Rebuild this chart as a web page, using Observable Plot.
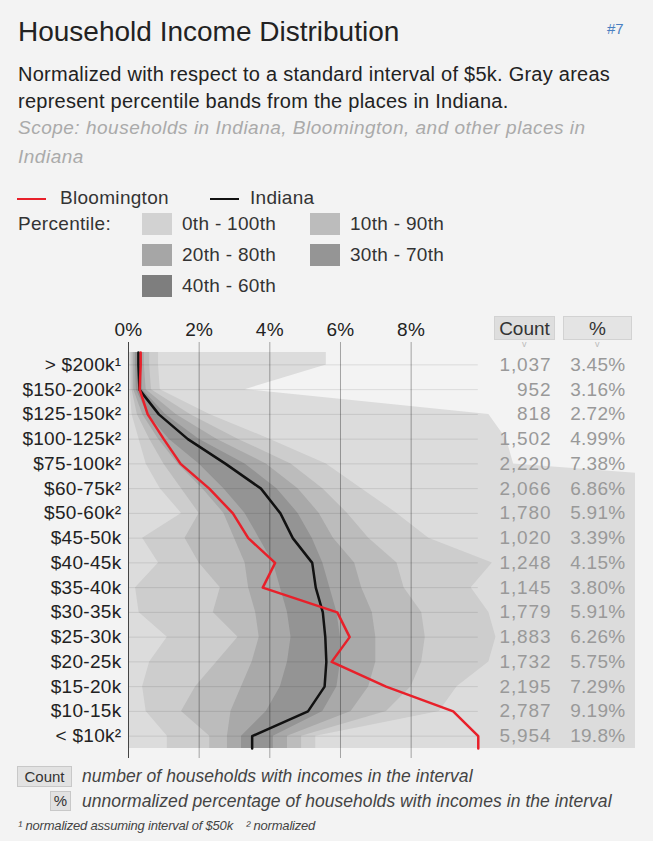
<!DOCTYPE html>
<html><head><meta charset="utf-8">
<script src="https://cdn.jsdelivr.net/npm/d3@7"></script>
<script src="https://cdn.jsdelivr.net/npm/@observablehq/plot@0.6"></script>
<style>
body{margin:0;background:#f3f3f3;font-family:"Liberation Sans",Arial,sans-serif;color:#222}
#page{position:relative;width:653px;height:841px;overflow:hidden;background:#f3f3f3}
.abs{position:absolute;white-space:nowrap}
#title{left:18px;top:16px;font-size:28px;color:#222}
#num{left:607px;top:20px;font-size:15px;color:#4a7fc1}
#sub{left:18px;top:61px;font-size:20px;line-height:27px;letter-spacing:0.25px;color:#222;white-space:normal;width:625px}
#scope{left:18px;top:113px;font-size:19px;line-height:29px;letter-spacing:0.5px;color:#aaa;font-style:italic;white-space:normal;width:600px}
.lg{font-size:19px;color:#333;letter-spacing:0.3px}
.sw{position:absolute;width:30px;height:22px}
.hdr{position:absolute;top:316px;height:24px;line-height:24px;text-align:center;font-size:19px;color:#333;background:#dedede;border:1px solid #d2d2d2;box-sizing:border-box}
.chev{position:absolute;top:339px;font-size:9px;color:#bbb}
#chart{position:absolute;left:0;top:310px}
.fbox{position:absolute;font-size:15px;color:#333;background:#e2e2e2;border:1px solid #c8c8c8;box-sizing:border-box;text-align:center}
.fn{font-size:17.5px;color:#444;font-style:italic;letter-spacing:0.05px}
.fn3{font-size:13px;color:#444;font-style:italic;letter-spacing:-0.2px}
</style></head><body><div id="page">
<div class="abs" id="title">Household Income Distribution</div>
<div class="abs" id="num">#7</div>
<div class="abs" id="sub">Normalized with respect to a standard interval of $5k. Gray areas represent percentile bands from the places in Indiana.</div>
<div class="abs" id="scope">Scope: households in Indiana, Bloomington, and other places in Indiana</div>
<div id="legend"></div>
<div id="chart"></div>
<div class="hdr" style="left:494px;width:61px">Count</div>
<div class="hdr" style="left:563px;width:69px;background:#e4e4e4">%</div>
<div class="chev" style="left:522px">v</div>
<div class="chev" style="left:595px">v</div>
<div class="fbox" style="left:17px;top:766px;width:55px;height:21px;line-height:19px">Count</div>
<div class="abs fn" style="left:82px;top:766px">number of households with incomes in the interval</div>
<div class="fbox" style="left:50px;top:791px;width:21px;height:20px;line-height:18px">%</div>
<div class="abs fn" style="left:82px;top:791px">unnormalized percentage of households with incomes in the interval</div>
<div class="abs fn3" style="left:18px;top:818px">¹ normalized assuming interval of $50k</div>
<div class="abs fn3" style="left:246px;top:818px">² normalized</div>
</div>
<script>
// ---- data ----
const incomeLabels = ["> $200k¹","$150-200k²","$125-150k²","$100-125k²","$75-100k²","$60-75k²","$50-60k²","$45-50k","$40-45k","$35-40k","$30-35k","$25-30k","$20-25k","$15-20k","$10-15k","< $10k²"];
const intervalWidthK = [50,50,25,25,25,15,10,5,5,5,5,5,5,5,5,10];
const bloomCount = [1037,952,818,1502,2220,2066,1780,1020,1248,1145,1779,1883,1732,2195,2787,5954];
const bloomPct = [3.45,3.16,2.72,4.99,7.38,6.86,5.91,3.39,4.15,3.80,5.91,6.26,5.75,7.29,9.19,19.8];
const indianaNorm = [0.28,0.31,0.86,1.68,2.75,3.75,4.3,4.65,5.2,5.3,5.5,5.57,5.6,5.55,5.08,3.5];
// percentile bands across places in Indiana (normalized %)
const p0   = [0,0,0,0,0,0,0,0,0,0,0,0,0,0,0,0];
const p10  = [0.05,0.05,0.1,0.3,0.5,0.9,1.5,0.4,0.85,0.2,0.3,1.1,0.6,0.4,0.5,1.1];
const p20  = [0.1,0.1,0.25,0.6,1.0,1.5,2.0,1.6,2.0,2.6,2.4,3.1,2.5,1.9,1.5,2.3];
const p30  = [0.15,0.15,0.4,0.85,1.4,2.1,2.7,3.0,3.3,3.4,3.6,3.7,3.5,3.2,2.9,2.8];
const p40  = [0.2,0.22,0.55,1.15,2.0,2.7,3.3,3.7,4.1,4.3,4.5,4.6,4.5,4.3,3.9,3.2];
const p60  = [0.35,0.4,1.05,2.0,3.3,4.2,4.8,5.2,5.5,5.7,5.9,6.0,6.0,5.9,5.5,4.1];
const p70  = [0.45,0.5,1.35,2.5,3.9,4.8,5.4,5.8,6.4,6.6,6.9,7.0,7.0,6.8,6.3,4.5];
const p80  = [0.6,0.65,1.75,3.1,4.6,5.5,6.2,6.8,7.6,7.8,8.3,8.4,8.3,8.0,7.3,4.9];
const p90  = [0.85,0.9,2.3,4.0,5.6,6.6,7.6,8.5,10.3,9.7,10.2,10.4,10.2,9.3,8.8,5.3];
const p100 = [5.6,3.3,10.2,10.7,10.9,20,20,20,20,20,20,20,20,20,20,20];
const xTicks = [0,2,4,6,8];
const bandDefs = [
  {name:"0th - 100th", lo:p0,  hi:p100, fill:"#dcdcdc", swatch:"#d2d2d2"},
  {name:"10th - 90th", lo:p10, hi:p90,  fill:"#cdcdcd", swatch:"#bcbcbc"},
  {name:"20th - 80th", lo:p20, hi:p80,  fill:"#bcbcbc", swatch:"#a6a6a6"},
  {name:"30th - 70th", lo:p30, hi:p70,  fill:"#a9a9a9", swatch:"#959595"},
  {name:"40th - 60th", lo:p40, hi:p60,  fill:"#949494", swatch:"#7e7e7e"}
];

// ---- legend ----
const legend = document.getElementById("legend");
legend.innerHTML = `
<div class="abs lg" style="left:17px;top:187px"><span style="display:inline-block;width:29px;height:2px;background:#e8202a;vertical-align:middle;margin-right:14px"></span>Bloomington</div>
<div class="abs lg" style="left:210px;top:187px"><span style="display:inline-block;width:29px;height:2px;background:#111;vertical-align:middle;margin-right:11px"></span>Indiana</div>
<div class="abs lg" style="left:18px;top:213px">Percentile:</div>`;
const swPos = [[142,213],[310,213],[142,244],[310,244],[142,275]];
bandDefs.forEach((b,k)=>{
  const [x,y] = swPos[k];
  legend.insertAdjacentHTML("beforeend",
   `<div class="sw" style="left:${x}px;top:${y}px;background:${b.swatch}"></div><div class="abs lg" style="left:${x+40}px;top:${y}px">${b.name}</div>`);
});

// ---- chart ----
const rows = incomeLabels.map((label,i)=>({
  i, label, count: bloomCount[i], pct: bloomPct[i],
  bloom: bloomPct[i]*5/intervalWidthK[i], indiana: indianaNorm[i]
}));
const last = rows.length-1;
const ext = (arr) => [{y:-0.5, v:arr[0]}, ...arr.map((v,i)=>({y:i, v})), {y:last+0.5, v:arr[last]}];
const extBand = (lo,hi) => [{y:-0.5, lo:lo[0], hi:hi[0]}, ...lo.map((v,i)=>({y:i, lo:v, hi:hi[i]})), {y:last+0.5, lo:lo[last], hi:hi[last]}];
const bloomMax = d3.max(rows, d=>d.bloom);

const fmtCount = d3.format(",");
const fmtPct = d3.format(".3r");

const chart = Plot.plot({
  width: 653, height: 455,
  marginTop: 32, marginBottom: 7, marginLeft: 128, marginRight: 18,
  style: {background:"transparent", fontFamily:'"Liberation Sans", Arial, sans-serif', fontSize:"19px", color:"#222", letterSpacing:"0.3px"},
  x: {domain:[0,14.35], axis:"top", ticks:xTicks, tickFormat:d=>d+"%", tickSize:0, tickPadding:7, label:null},
  y: {domain:[-0.5,last+0.5], reverse:true, insetTop:10, insetBottom:10, ticks:d3.range(rows.length), tickFormat:i=>incomeLabels[i], tickSize:0, tickPadding:7, label:null},
  marks: [
    ...bandDefs.map(b => Plot.areaX(extBand(b.lo,b.hi), {y:"y", x1:"lo", x2:"hi", fill:b.fill, clip:true})),
    Plot.ruleY(rows, {y:"i", x1:0, x2:bloomMax, stroke:"#000", strokeOpacity:0.1}),
    Plot.ruleX(xTicks.filter(d=>d>0), {stroke:"#000", strokeOpacity:0.33}),
    Plot.ruleX([0], {stroke:"#444"}),
    Plot.line(ext(indianaNorm), {y:"y", x:"v", stroke:"#111", strokeWidth:2.5}),
    Plot.line(ext(rows.map(d=>d.bloom)), {y:"y", x:"v", stroke:"#e8202a", strokeWidth:2.5}),
    Plot.text(rows, {y:"i", text:d=>fmtCount(d.count), frameAnchor:"right", textAnchor:"end", dx:-84, fill:"#999", fontSize:19}),
    Plot.text(rows, {y:"i", text:d=>fmtPct(d.pct)+"%", frameAnchor:"right", textAnchor:"end", dx:-10, fill:"#999", fontSize:19})
  ]
});
const textGroups = chart.querySelectorAll('g[aria-label="text"]');
if (textGroups[0]) textGroups[0].style.letterSpacing = "0.9px";
document.getElementById("chart").appendChild(chart);
</script>
</body></html>
